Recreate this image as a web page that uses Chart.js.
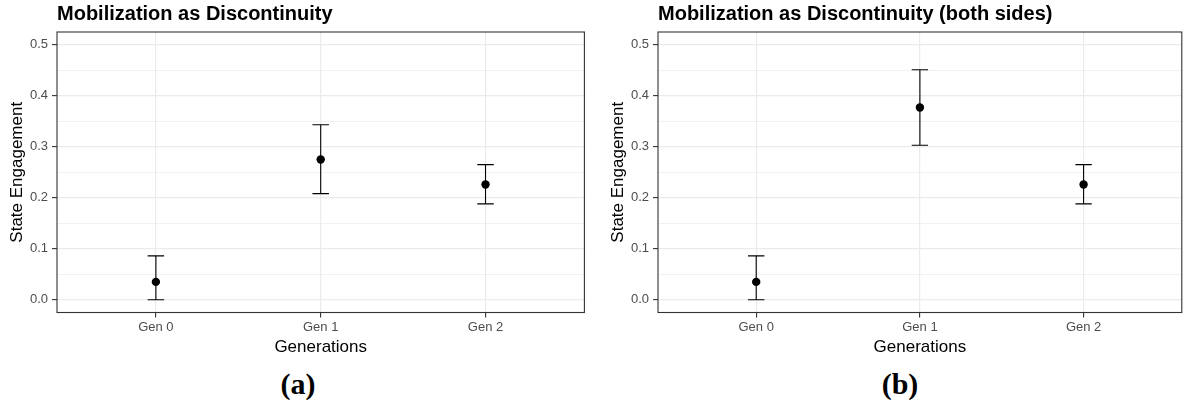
<!DOCTYPE html>
<html>
<head>
<meta charset="utf-8">
<script src="https://cdn.jsdelivr.net/npm/chart.js@4"></script>
<style>
  html, body { margin: 0; padding: 0; background: #ffffff; overflow: hidden; }
  #wrap { position: relative; width: 1186px; height: 412px; }
  canvas { position: absolute; top: 0; }
  #ca { left: 0; }
  #cb { left: 601px; }
  .cap { position: absolute; top: 366px; font-family: "Liberation Serif", serif; font-weight: bold; font-size: 30px; line-height: 36px; transform: translateX(-50%); color: #000; }
</style>
</head>
<body>
<div id="wrap">
  <canvas id="ca" width="592" height="360"></canvas>
  <canvas id="cb" width="585" height="360"></canvas>
  <div class="cap" style="left:298px">(a)</div>
  <div class="cap" style="left:900px">(b)</div>
</div>
<script>
// ---- data ----
const categories = ['Gen 0', 'Gen 1', 'Gen 2'];
const titleA = 'Mobilization as Discontinuity';
const titleB = 'Mobilization as Discontinuity (both sides)';
const estA = [0.035, 0.275, 0.226];
const lowA = [0.000, 0.208, 0.188];
const highA = [0.086, 0.343, 0.265];
const estB = [0.035, 0.377, 0.226];
const lowB = [0.000, 0.303, 0.188];
const highB = [0.086, 0.451, 0.265];
const yMajorTicks = [0.0, 0.1, 0.2, 0.3, 0.4, 0.5];
const yMinorTicks = [0.05, 0.15, 0.25, 0.35, 0.45];
const yLabel = 'State Engagement';
const xLabel = 'Generations';

Chart.defaults.font.family = '"Liberation Sans", Arial, sans-serif';

const isMajor = v => yMajorTicks.some(m => Math.abs(m - v) < 1e-9);

const errorBarPlugin = {
  id: 'errorBars',
  beforeDatasetsDraw(chart) {
    const ctx = chart.ctx;
    const xs = chart.scales.x, ys = chart.scales.y;
    chart.data.datasets.forEach(ds => {
      if (!ds.errLow) return;
      ds.data.forEach((p, i) => {
        const x = xs.getPixelForValue(p.x);
        const xl = xs.getPixelForValue(p.x - 0.05);
        const xr = xs.getPixelForValue(p.x + 0.05);
        const yl = ys.getPixelForValue(ds.errLow[i]);
        const yh = ys.getPixelForValue(ds.errHigh[i]);
        ctx.save();
        ctx.strokeStyle = '#000000';
        ctx.lineWidth = 1.1;
        ctx.beginPath();
        ctx.moveTo(x, yl); ctx.lineTo(x, yh);
        ctx.moveTo(xl, yl); ctx.lineTo(xr, yl);
        ctx.moveTo(xl, yh); ctx.lineTo(xr, yh);
        ctx.stroke();
        ctx.restore();
      });
    });
  }
};

const panelBorderPlugin = {
  id: 'panelBorder',
  afterDraw(chart) {
    const a = chart.chartArea;
    const ctx = chart.ctx;
    ctx.save();
    ctx.strokeStyle = '#333333';
    ctx.lineWidth = 1.1;
    ctx.strokeRect(a.left, a.top, a.right - a.left, a.bottom - a.top);
    ctx.restore();
  }
};

function makeChart(id, title, est, low, high, padRight) {
  const data = est.map((v, i) => ({ x: i, y: v }));
  return new Chart(document.getElementById(id), {
    type: 'scatter',
    data: {
      datasets: [{
        data: data,
        errLow: low,
        errHigh: high,
        pointRadius: 4.2,
        pointHoverRadius: 4.2,
        backgroundColor: '#000000',
        borderWidth: 0
      }]
    },
    plugins: [errorBarPlugin, panelBorderPlugin],
    options: {
      responsive: false,
      animation: false,
      devicePixelRatio: 1,
      layout: { padding: { left: 0, right: padRight, top: 0, bottom: 0 } },
      plugins: {
        legend: { display: false },
        tooltip: { enabled: false },
        title: {
          display: true,
          text: title,
          fullSize: false,
          align: 'start',
          color: '#000000',
          font: { size: 20, weight: 'bold' },
          padding: { top: 2.5, bottom: 5.5 }
        }
      },
      scales: {
        x: {
          type: 'linear',
          min: -0.6,
          max: 2.6,
          afterBuildTicks: s => { s.ticks = categories.map((c, i) => ({ value: i })); },
          afterFit: s => { s.height = 47.5; },
          border: { display: false },
          grid: {
            color: '#EBEBEB',
            lineWidth: 1.2,
            tickColor: '#333333',
            tickLength: 5,
            tickWidth: 1.1
          },
          ticks: {
            color: '#4D4D4D',
            font: { size: 13 },
            padding: 2,
            maxRotation: 0,
            callback: v => categories[v]
          },
          title: {
            display: true,
            text: xLabel,
            color: '#000000',
            font: { size: 17 },
            padding: { top: 0, bottom: 2 }
          }
        },
        y: {
          type: 'linear',
          min: -0.025,
          max: 0.525,
          afterBuildTicks: s => {
            s.ticks = yMajorTicks.concat(yMinorTicks).sort((a, b) => a - b).map(v => ({ value: v }));
          },
          afterFit: s => { s.width = 57; },
          border: { display: false },
          grid: {
            color: '#EBEBEB',
            lineWidth: c => isMajor(c.tick.value) ? 1.2 : 0.7,
            tickColor: c => isMajor(c.tick.value) ? '#333333' : 'rgba(0,0,0,0)',
            tickLength: 5,
            tickWidth: 1.1
          },
          ticks: {
            color: '#4D4D4D',
            font: { size: 13 },
            padding: 4,
            autoSkip: false,
            callback: v => isMajor(v) ? v.toFixed(1) : ''
          },
          title: {
            display: true,
            text: yLabel,
            color: '#000000',
            font: { size: 17 },
            padding: { top: 7, bottom: 0 }
          }
        }
      }
    }
  });
}

makeChart('ca', titleA, estA, lowA, highA, 7.6);
makeChart('cb', titleB, estB, lowB, highB, 1.5);
</script>
</body>
</html>
